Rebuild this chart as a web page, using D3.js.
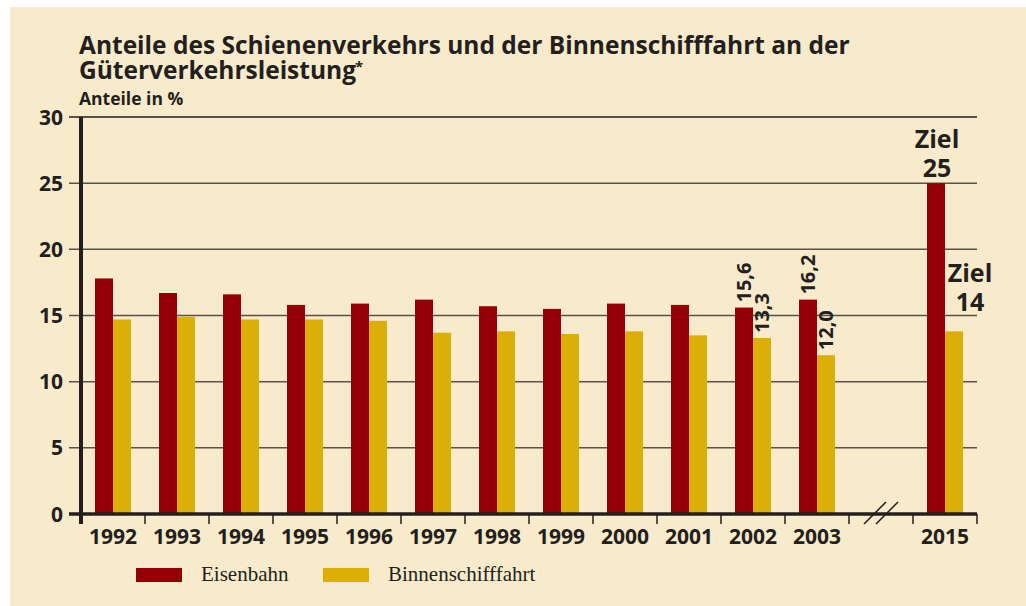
<!DOCTYPE html>
<html>
<head>
<meta charset="utf-8">
<script src="https://cdn.jsdelivr.net/npm/d3@7"></script>
<style>
  html, body { margin: 0; padding: 0; background: #fff; }
  svg { display: block; }
</style>
</head>
<body>
<svg id="chart" width="1026" height="606"></svg>
<script>
// data
const years = ['1992', '1993', '1994', '1995', '1996', '1997', '1998', '1999', '2000', '2001', '2002', '2003', 'break', '2015'];
const eisenbahn = [17.8, 16.7, 16.6, 15.8, 15.9, 16.2, 15.7, 15.5, 15.9, 15.8, 15.6, 16.2, null, 25.0];
const binnen = [14.7, 14.9, 14.7, 14.7, 14.6, 13.7, 13.8, 13.6, 13.8, 13.5, 13.3, 12.0, null, 13.8];
const yTicks = [0, 5, 10, 15, 20, 25, 30];
const rotLabels = [
  {year: '2002', series: 0, text: '15,6'},
  {year: '2002', series: 1, text: '13,3'},
  {year: '2003', series: 0, text: '16,2'},
  {year: '2003', series: 1, text: '12,0'}
];
const zielLabels = [
  {year: '2015', series: 0, lines: ['Ziel', '25']},
  {year: '2015', series: 1, lines: ['Ziel', '14']}
];
const seriesNames = ['Eisenbahn', 'Binnenschifffahrt'];
const colors = ['#940007', '#dbaf05'];

const ink = '#231f20';
const sans = '"Open Sans", "Noto Sans", sans-serif';
const svg = d3.select('#chart');

svg.append('rect')
  .attr('x', 10).attr('y', 7)
  .attr('width', 1016).attr('height', 599)
  .attr('fill', '#f7ebcb');

const margin = {left: 81, right: 977, top: 117, bottom: 514};

const x = d3.scaleBand()
  .domain(years)
  .range([margin.left, margin.right]);
const barW = 18;

const y = d3.scaleLinear()
  .domain([0, 30])
  .range([margin.bottom, margin.top]);

// title
const title = svg.append('g').attr('fill', ink).attr('font-family', sans).attr('font-weight', 'bold');
title.append('text').attr('x', 79).attr('y', 54).attr('font-size', 24.5)
  .text('Anteile des Schienenverkehrs und der Binnenschifffahrt an der');
title.append('text').attr('x', 79).attr('y', 79).attr('font-size', 24.5)
  .text('Güterverkehrsleistung');
title.append('text').attr('x', 355).attr('y', 72).attr('font-size', 15)
  .text('*');
title.append('text').attr('x', 79).attr('y', 105).attr('font-size', 17.5)
  .text('Anteile in %');

// grid
svg.append('g')
  .selectAll('line')
  .data(yTicks.filter(d => d > 0))
  .join('line')
  .attr('x1', 69).attr('x2', margin.right)
  .attr('y1', d => y(d)).attr('y2', d => y(d))
  .attr('stroke', ink)
  .attr('stroke-opacity', (d) => d === 30 ? 1 : 0.75)
  .attr('stroke-width', 1.5);

// y labels
svg.append('g')
  .selectAll('text')
  .data(yTicks)
  .join('text')
  .attr('x', 63)
  .attr('y', d => y(d))
  .attr('dy', '0.36em')
  .attr('text-anchor', 'end')
  .attr('font-family', sans)
  .attr('font-weight', 'bold')
  .attr('font-size', 21)
  .attr('fill', ink)
  .text(d => d);

// bars
const groups = svg.append('g')
  .selectAll('g')
  .data(years.map((yr, i) => ({yr, vals: [eisenbahn[i], binnen[i]]})).filter(d => d.vals[0] !== null))
  .join('g')
  .attr('transform', d => `translate(${x(d.yr) + x.bandwidth() / 2},0)`);

groups.selectAll('rect')
  .data(d => d.vals)
  .join('rect')
  .attr('x', (d, i) => i === 0 ? -barW : 0)
  .attr('width', barW)
  .attr('y', d => y(d))
  .attr('height', d => y(0) - y(d))
  .attr('fill', (d, i) => colors[i]);

// axes
svg.append('line')
  .attr('x1', 69).attr('x2', margin.right)
  .attr('y1', y(0)).attr('y2', y(0))
  .attr('stroke', ink).attr('stroke-width', 3.5);
svg.append('line')
  .attr('x1', margin.left).attr('x2', margin.left)
  .attr('y1', margin.top).attr('y2', y(0) + 10)
  .attr('stroke', ink).attr('stroke-width', 4);

svg.append('g')
  .selectAll('line')
  .data(years.slice(1).map(d => x(d)).concat([margin.right]))
  .join('line')
  .attr('x1', d => d).attr('x2', d => d)
  .attr('y1', y(0)).attr('y2', y(0) + 10)
  .attr('stroke', ink).attr('stroke-width', 1.5);

svg.append('g')
  .selectAll('text')
  .data(years.filter(d => d !== 'break'))
  .join('text')
  .attr('x', d => x(d) + x.bandwidth() / 2)
  .attr('y', 544)
  .attr('text-anchor', 'middle')
  .attr('font-family', sans)
  .attr('font-weight', 'bold')
  .attr('font-size', 21)
  .attr('fill', ink)
  .text(d => d);

// axis break
const bx = x('break') + x.bandwidth() / 2;
svg.append('g')
  .selectAll('line')
  .data([-6, 6])
  .join('line')
  .attr('x1', d => bx + d - 11).attr('x2', d => bx + d + 11)
  .attr('y1', y(0) + 10).attr('y2', y(0) - 12)
  .attr('stroke', ink).attr('stroke-width', 1.5);

// rotated value labels
svg.append('g')
  .selectAll('text')
  .data(rotLabels)
  .join('text')
  .attr('transform', d => {
    const v = d.series === 0 ? eisenbahn[years.indexOf(d.year)] : binnen[years.indexOf(d.year)];
    const cx = x(d.year) + x.bandwidth() / 2 + (d.series === 0 ? -barW / 2 : barW / 2);
    return `translate(${cx + 7},${y(v) - 5}) rotate(-90)`;
  })
  .attr('font-family', sans)
  .attr('font-weight', 'bold')
  .attr('font-size', 20)
  .attr('fill', ink)
  .text(d => d.text);

// target labels
const ziel = svg.append('g')
  .selectAll('text')
  .data(zielLabels)
  .join('text')
  .attr('text-anchor', 'middle')
  .attr('font-family', sans)
  .attr('font-weight', 'bold')
  .attr('font-size', 25)
  .attr('fill', ink)
  .attr('transform', d => {
    const i = years.indexOf(d.year);
    const cx = x(d.year) + x.bandwidth() / 2;
    if (d.series === 0) return `translate(${cx - barW / 2 + 1},${y(eisenbahn[i]) - 35})`;
    return `translate(${cx + 25},${y(binnen[i]) - 49})`;
  });
ziel.selectAll('tspan')
  .data(d => d.lines)
  .join('tspan')
  .attr('x', 0)
  .attr('dy', (d, i) => i === 0 ? 0 : 29)
  .text(d => d);

// legend
const legend = svg.append('g')
  .selectAll('g')
  .data(seriesNames)
  .join('g')
  .attr('transform', (d, i) => `translate(${136 + i * 187},568)`);
legend.append('rect')
  .attr('width', 46).attr('height', 14)
  .attr('fill', (d, i) => colors[i]);
legend.append('text')
  .attr('x', 65).attr('y', 13)
  .attr('font-family', '"Liberation Serif", "DejaVu Serif", serif')
  .attr('font-size', 21)
  .attr('fill', ink)
  .text(d => d);
</script>
</body>
</html>
